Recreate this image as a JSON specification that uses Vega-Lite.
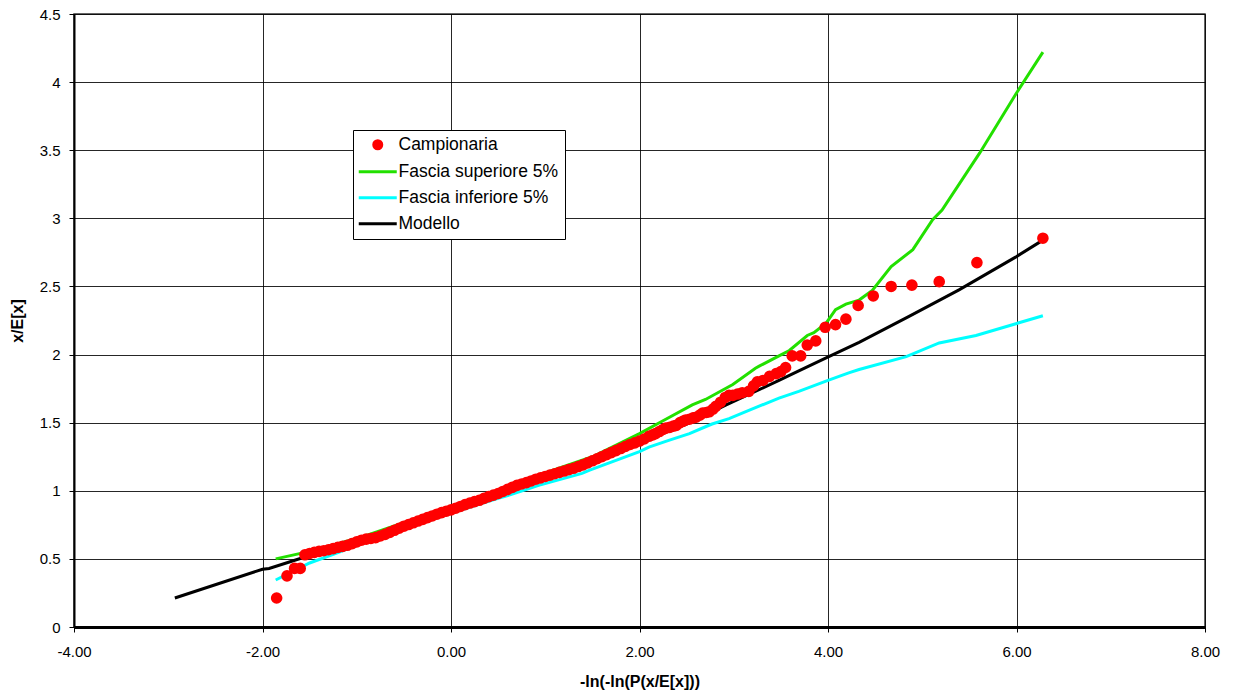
{
  "$schema": "https://vega.github.io/schema/vega-lite/v6.json",
  "width": 1131,
  "height": 613,
  "autosize": {"type": "none"},
  "padding": {"left": 74, "top": 14, "right": 29, "bottom": 73},
  "background": "white",
  "config": {
    "locale": {"number": {"decimal": ".", "thousands": ",", "grouping": [3], "currency": ["", ""], "minus": "-"}},
    "view": {"stroke": "#333", "strokeWidth": 1.5},
    "axis": {
      "labelFont": "Liberation Sans", "labelFontSize": 15, "labelColor": "#000",
      "titleFont": "Liberation Sans", "titleFontSize": 16, "titleFontWeight": "bold", "titleColor": "#000",
      "gridColor": "#000", "gridWidth": 1, "gridOpacity": 0.85,
      "tickColor": "#000", "domainColor": "#000", "tickSize": 5
    },
    "legend": {
      "title": null, "orient": "none", "legendX": 279, "legendY": 116,
      "fillColor": "#ffffff", "strokeColor": "#000000", "padding": 6,
      "labelFont": "Liberation Sans", "labelFontSize": 17.5, "labelColor": "#000",
      "symbolSize": 64, "symbolOffset": 10, "labelOffset": 12, "rowPadding": 7,
      "symbolStrokeWidth": 3, "symbolFillColor": "#ff0000", "symbolOpacity": 1
    }
  },
  "layer": [
    {
      "data": {"values": [
        {"x": -2.93, "y": 0.213}, {"x": -2.0, "y": 0.424}, {"x": -1.93, "y": 0.43}, {"x": -1.5, "y": 0.525},
        {"x": -1.0, "y": 0.64}, {"x": -0.5, "y": 0.755}, {"x": 0.0, "y": 0.865}, {"x": 0.5, "y": 0.98},
        {"x": 1.0, "y": 1.1}, {"x": 1.5, "y": 1.225}, {"x": 2.0, "y": 1.355}, {"x": 2.5, "y": 1.49},
        {"x": 2.92, "y": 1.63}, {"x": 3.48, "y": 1.81}, {"x": 3.69, "y": 1.88}, {"x": 3.98, "y": 1.975},
        {"x": 4.33, "y": 2.09}, {"x": 4.86, "y": 2.28}, {"x": 5.39, "y": 2.475}, {"x": 5.99, "y": 2.715},
        {"x": 6.28, "y": 2.84}
      ]},
      "mark": {"type": "line", "strokeWidth": 3},
      "encoding": {
        "x": {"field": "x", "type": "quantitative",
          "scale": {"domain": [-4, 8], "nice": false, "zero": false},
          "axis": {"title": "-ln(-ln(P(x/E[x]))", "values": [-4, -2, 0, 2, 4, 6, 8], "format": ".2f",
            "labelFlush": false, "labelOverlap": false, "labelPadding": 12, "titlePadding": 14, "domainWidth": 3, "grid": true}},
        "y": {"field": "y", "type": "quantitative",
          "scale": {"domain": [0, 4.5], "nice": false, "zero": false},
          "axis": {"title": "x/E[x]", "values": [0, 0.5, 1, 1.5, 2, 2.5, 3, 3.5, 4, 4.5], "format": "~g",
            "labelFlush": false, "labelOverlap": false, "labelPadding": 9, "titlePadding": 14, "domainWidth": 2, "grid": true}},
        "color": {"datum": "Modello", "type": "nominal",
          "scale": {"domain": ["Campionaria", "Fascia superiore 5%", "Fascia inferiore 5%", "Modello"],
                    "range": ["#ff0000", "#22e000", "#00ffff", "#000000"]},
          "legend": {"title": null}}
      }
    },
    {
      "data": {"values": [
        {"x": -1.86, "y": 0.345}, {"x": -1.5, "y": 0.47}, {"x": -1.22, "y": 0.54}, {"x": -1.0, "y": 0.6},
        {"x": -0.5, "y": 0.72}, {"x": 0.0, "y": 0.835}, {"x": 0.5, "y": 0.945}, {"x": 0.65, "y": 0.975},
        {"x": 0.93, "y": 1.04}, {"x": 1.39, "y": 1.128}, {"x": 1.465, "y": 1.15}, {"x": 2.0, "y": 1.287},
        {"x": 2.1, "y": 1.32}, {"x": 2.31, "y": 1.37}, {"x": 2.53, "y": 1.42}, {"x": 2.7, "y": 1.47},
        {"x": 2.77, "y": 1.49}, {"x": 2.95, "y": 1.53}, {"x": 3.16, "y": 1.59}, {"x": 3.48, "y": 1.68},
        {"x": 3.69, "y": 1.73}, {"x": 4.0, "y": 1.81}, {"x": 4.22, "y": 1.865}, {"x": 4.33, "y": 1.89},
        {"x": 4.83, "y": 1.985}, {"x": 5.18, "y": 2.085}, {"x": 5.57, "y": 2.14}, {"x": 6.28, "y": 2.285}
      ]},
      "mark": {"type": "line", "strokeWidth": 3},
      "encoding": {
        "x": {"field": "x", "type": "quantitative"},
        "y": {"field": "y", "type": "quantitative"},
        "color": {"datum": "Fascia inferiore 5%", "type": "nominal"}
      }
    },
    {
      "data": {"values": [
        {"x": -1.86, "y": 0.5}, {"x": -1.5, "y": 0.555}, {"x": -1.0, "y": 0.65}, {"x": -0.905, "y": 0.67},
        {"x": -0.5, "y": 0.765}, {"x": 0.0, "y": 0.875}, {"x": 0.5, "y": 0.995}, {"x": 0.93, "y": 1.115},
        {"x": 1.5, "y": 1.25}, {"x": 2.0, "y": 1.42}, {"x": 2.24, "y": 1.51}, {"x": 2.56, "y": 1.63},
        {"x": 2.7, "y": 1.67}, {"x": 2.99, "y": 1.78}, {"x": 3.23, "y": 1.9}, {"x": 3.27, "y": 1.915},
        {"x": 3.48, "y": 1.99}, {"x": 3.59, "y": 2.03}, {"x": 3.78, "y": 2.14}, {"x": 3.85, "y": 2.16},
        {"x": 3.98, "y": 2.23}, {"x": 4.08, "y": 2.33}, {"x": 4.19, "y": 2.37}, {"x": 4.33, "y": 2.4},
        {"x": 4.47, "y": 2.47}, {"x": 4.67, "y": 2.645}, {"x": 4.9, "y": 2.77}, {"x": 5.11, "y": 2.99},
        {"x": 5.21, "y": 3.06}, {"x": 5.61, "y": 3.48}, {"x": 6.0, "y": 3.92}, {"x": 6.28, "y": 4.22}
      ]},
      "mark": {"type": "line", "strokeWidth": 3},
      "encoding": {
        "x": {"field": "x", "type": "quantitative"},
        "y": {"field": "y", "type": "quantitative"},
        "color": {"datum": "Fascia superiore 5%", "type": "nominal"}
      }
    },
    {
      "data": {"values": [
        {"x": -1.85, "y": 0.213}, {"x": -1.74, "y": 0.375}, {"x": -1.66, "y": 0.43}, {"x": -1.6, "y": 0.43},
        {"x": -1.55, "y": 0.53}, {"x": -1.5, "y": 0.54}, {"x": -1.45, "y": 0.548}, {"x": -1.4, "y": 0.555},
        {"x": -1.35, "y": 0.56}, {"x": -1.3, "y": 0.567}, {"x": -1.25, "y": 0.575}, {"x": -1.2, "y": 0.585},
        {"x": -1.15, "y": 0.592}, {"x": -1.1, "y": 0.6}, {"x": -1.05, "y": 0.612}, {"x": -1.0, "y": 0.625},
        {"x": -0.95, "y": 0.637}, {"x": -0.9, "y": 0.645}, {"x": -0.85, "y": 0.65}, {"x": -0.8, "y": 0.656},
        {"x": -0.75, "y": 0.668}, {"x": -0.7, "y": 0.68}, {"x": -0.65, "y": 0.695}, {"x": -0.6, "y": 0.71},
        {"x": -0.55, "y": 0.725}, {"x": -0.5, "y": 0.74}, {"x": -0.45, "y": 0.752}, {"x": -0.4, "y": 0.765},
        {"x": -0.35, "y": 0.778}, {"x": -0.3, "y": 0.79}, {"x": -0.25, "y": 0.803}, {"x": -0.2, "y": 0.815},
        {"x": -0.15, "y": 0.828}, {"x": -0.1, "y": 0.84}, {"x": -0.05, "y": 0.85}, {"x": 0.0, "y": 0.86},
        {"x": 0.05, "y": 0.872}, {"x": 0.1, "y": 0.885}, {"x": 0.15, "y": 0.898}, {"x": 0.2, "y": 0.91},
        {"x": 0.25, "y": 0.92}, {"x": 0.3, "y": 0.93}, {"x": 0.35, "y": 0.944}, {"x": 0.4, "y": 0.957},
        {"x": 0.45, "y": 0.968}, {"x": 0.5, "y": 0.98}, {"x": 0.55, "y": 0.995}, {"x": 0.6, "y": 1.01},
        {"x": 0.65, "y": 1.025}, {"x": 0.7, "y": 1.04}, {"x": 0.75, "y": 1.05}, {"x": 0.8, "y": 1.06},
        {"x": 0.85, "y": 1.072}, {"x": 0.9, "y": 1.085}, {"x": 0.95, "y": 1.095}, {"x": 1.0, "y": 1.105},
        {"x": 1.05, "y": 1.115}, {"x": 1.1, "y": 1.125}, {"x": 1.15, "y": 1.135}, {"x": 1.2, "y": 1.145},
        {"x": 1.25, "y": 1.155}, {"x": 1.3, "y": 1.165}, {"x": 1.35, "y": 1.178}, {"x": 1.4, "y": 1.19},
        {"x": 1.45, "y": 1.205}, {"x": 1.5, "y": 1.22}, {"x": 1.55, "y": 1.235}, {"x": 1.6, "y": 1.25},
        {"x": 1.65, "y": 1.265}, {"x": 1.7, "y": 1.28}, {"x": 1.75, "y": 1.295}, {"x": 1.8, "y": 1.31},
        {"x": 1.85, "y": 1.325}, {"x": 1.9, "y": 1.34}, {"x": 1.95, "y": 1.352}, {"x": 2.0, "y": 1.365},
        {"x": 2.05, "y": 1.38}, {"x": 2.1, "y": 1.4}, {"x": 2.14, "y": 1.41}, {"x": 2.17, "y": 1.42},
        {"x": 2.21, "y": 1.435}, {"x": 2.25, "y": 1.45}, {"x": 2.28, "y": 1.46}, {"x": 2.32, "y": 1.465},
        {"x": 2.36, "y": 1.475}, {"x": 2.39, "y": 1.48}, {"x": 2.43, "y": 1.5}, {"x": 2.46, "y": 1.51},
        {"x": 2.49, "y": 1.52}, {"x": 2.53, "y": 1.525}, {"x": 2.57, "y": 1.535}, {"x": 2.6, "y": 1.54},
        {"x": 2.64, "y": 1.555}, {"x": 2.67, "y": 1.57}, {"x": 2.71, "y": 1.575}, {"x": 2.74, "y": 1.58},
        {"x": 2.78, "y": 1.6}, {"x": 2.81, "y": 1.62}, {"x": 2.86, "y": 1.65}, {"x": 2.91, "y": 1.685},
        {"x": 2.95, "y": 1.7}, {"x": 2.99, "y": 1.7}, {"x": 3.04, "y": 1.71}, {"x": 3.09, "y": 1.72},
        {"x": 3.16, "y": 1.73}, {"x": 3.21, "y": 1.77}, {"x": 3.25, "y": 1.8}, {"x": 3.31, "y": 1.81},
        {"x": 3.38, "y": 1.84}, {"x": 3.45, "y": 1.86}, {"x": 3.5, "y": 1.875}, {"x": 3.55, "y": 1.905},
        {"x": 3.62, "y": 1.99}, {"x": 3.71, "y": 1.99}, {"x": 3.78, "y": 2.07}, {"x": 3.87, "y": 2.1},
        {"x": 3.97, "y": 2.2}, {"x": 4.08, "y": 2.22}, {"x": 4.19, "y": 2.26}, {"x": 4.32, "y": 2.36},
        {"x": 4.48, "y": 2.43}, {"x": 4.67, "y": 2.5}, {"x": 4.89, "y": 2.51}, {"x": 5.18, "y": 2.535},
        {"x": 5.58, "y": 2.675}, {"x": 6.28, "y": 2.854}
      ]},
      "mark": {"type": "point", "filled": true, "size": 135, "opacity": 1, "strokeWidth": 0},
      "encoding": {
        "x": {"field": "x", "type": "quantitative"},
        "y": {"field": "y", "type": "quantitative"},
        "color": {"datum": "Campionaria", "type": "nominal"},
        "shape": {"datum": "Campionaria", "type": "nominal",
          "scale": {"domain": ["Campionaria", "Fascia superiore 5%", "Fascia inferiore 5%", "Modello"],
                    "range": ["circle", "M-4.75,0H4.75", "M-4.75,0H4.75", "M-4.75,0H4.75"]},
          "legend": {"title": null}}
      }
    }
  ]
}
